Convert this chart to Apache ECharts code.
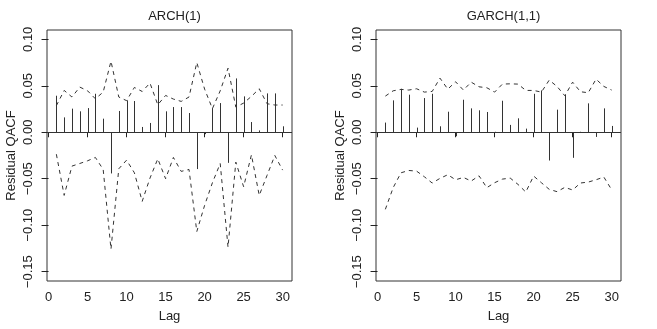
<!DOCTYPE html>
<html>
<head>
<meta charset="utf-8">
<script src="https://cdn.jsdelivr.net/npm/echarts@6/dist/echarts.min.js"></script>
<style>
html,body{margin:0;padding:0;background:#fff;}
#c{width:657px;height:329px;}
</style>
</head>
<body>
<div id="c"></div>
<script>
// ---- Data ----
const lags = [1,2,3,4,5,6,7,8,9,10,11,12,13,14,15,16,17,18,19,20,21,22,23,24,25,26,27,28,29,30];

const archQacf = [0.0393,0.016,0.0254,0.0225,0.026,0.0414,0.0146,-0.0443,0.0229,0.0343,
                  0.0336,0.0057,0.010,0.0507,0.0225,0.0271,0.0271,0.0207,-0.0396,-0.002,
                  0.026,0.0314,-0.0329,0.0579,0.0386,0.011,0.002,0.0418,0.0418,0.0064];
const archUpper = [0.0286,0.045,0.0379,0.0486,0.0446,0.036,0.0432,0.0764,0.0379,0.034,
                   0.0482,0.0439,0.0529,0.0296,0.0396,0.0357,0.0332,0.0379,0.075,0.0464,
                   0.0254,0.0446,0.0689,0.0271,0.0314,0.0386,0.0468,0.0307,0.0293,0.0293];
const archLower = [-0.0236,-0.0679,-0.0364,-0.0336,-0.0307,-0.0271,-0.04,-0.1257,-0.0393,-0.03,
                   -0.0436,-0.0743,-0.0493,-0.0286,-0.05,-0.0271,-0.0421,-0.04,-0.1068,-0.0786,
                   -0.0543,-0.0336,-0.1236,-0.0321,-0.0586,-0.0243,-0.0679,-0.0464,-0.025,-0.0407];

const garchQacf = [0.0104,0.0343,0.0468,0.0404,0.005,0.0368,0.0414,0.0064,0.0221,-0.0043,
                   0.035,0.0257,0.0236,0.0218,0.0005,0.0339,0.0079,0.015,0.0039,0.0414,
                   0.045,-0.0304,0.0243,0.0404,-0.0275,0.0005,0.0311,-0.005,0.0257,0.0068];
const garchUpper = [0.0389,0.0446,0.0461,0.0454,0.0468,0.0432,0.0439,0.0582,0.0464,0.0543,
                    0.0454,0.0539,0.0489,0.0479,0.0432,0.0518,0.0521,0.0518,0.045,0.045,
                    0.0432,0.0561,0.0493,0.0393,0.0539,0.0436,0.0425,0.0571,0.0493,0.0454];
const garchLower = [-0.0829,-0.0596,-0.0436,-0.0411,-0.0418,-0.0479,-0.0546,-0.0496,-0.0457,-0.0511,
                    -0.0486,-0.0525,-0.0468,-0.0596,-0.0543,-0.0504,-0.0493,-0.0561,-0.0643,-0.0471,
                    -0.0543,-0.0614,-0.0639,-0.0593,-0.0621,-0.0546,-0.0536,-0.0511,-0.0482,-0.0618];

const xTicks = [0,5,10,15,20,25,30];
const yTicks = [-0.15,-0.10,-0.05,0.00,0.05,0.10];
const titles = ['ARCH(1)','GARCH(1,1)'];
const xName = 'Lag';
const yName = 'Residual QACF';

// ---- Chart ----
const FONT = '"Liberation Sans", Arial, sans-serif';
const INK = '#222';
const chart = echarts.init(document.getElementById('c'), null, {renderer:'canvas'});

const pairs = (ys) => lags.map((l,i)=>[l, ys[i]]);
const grids = [
  {left:47, top:30, width:245, height:251},
  {left:376, top:30, width:245, height:251}
];
function fmtY(v){
  const s = Math.abs(v).toFixed(2);
  return (v < -1e-9 ? '\u2212' : '') + s;
}
const xAxes = grids.map((g,i)=>({
  type:'value', gridIndex:i, min:-0.2, max:31.2,
  name:xName, nameLocation:'middle', nameGap:29, nameMoveOverlap:false,
  nameTextStyle:{color:INK, fontSize:13, fontFamily:FONT},
  axisLine:{show:false},
  splitLine:{show:false},
  axisTick:{show:true, inside:false, length:5, customValues:xTicks, lineStyle:{color:INK}},
  axisLabel:{show:true, margin:10, customValues:xTicks, color:INK, fontSize:13, fontFamily:FONT,
             formatter:(v)=>String(v)}
}));
const yAxes = grids.map((g,i)=>({
  type:'value', gridIndex:i, min:-0.16, max:0.11,
  name:yName, nameLocation:'middle', nameGap:29, nameMoveOverlap:false,
  nameTextStyle:{color:INK, fontSize:13, fontFamily:FONT},
  axisLine:{show:false},
  splitLine:{show:false},
  axisTick:{show:true, inside:false, length:7, customValues:yTicks, lineStyle:{color:INK}},
  axisLabel:{show:true, margin:12, rotate:90, customValues:yTicks, color:INK, fontSize:13, fontFamily:FONT,
             formatter:fmtY}
}));

function spikes(idx, vals){
  return {
    type:'custom', xAxisIndex:idx, yAxisIndex:idx, silent:true,
    data: pairs(vals),
    renderItem:(params, api)=>{
      const p0 = api.coord([api.value(0), 0]);
      const p1 = api.coord([api.value(0), api.value(1)]);
      const x = Math.round(p0[0]) + 0.5;
      return {type:'line', shape:{x1:x, y1:p0[1], x2:x, y2:p1[1]},
              style:{stroke:'#333', lineWidth:1}};
    }
  };
}
function dashed(idx, vals, withZero){
  const s = {
    type:'line', xAxisIndex:idx, yAxisIndex:idx, silent:true, symbol:'none',
    data: pairs(vals),
    lineStyle:{color:'#333', width:1, type:[4,4]},
    animation:false
  };
  if (withZero){
    s.markLine = {silent:true, symbol:'none', label:{show:false},
      lineStyle:{color:'#333', width:1, type:'solid'},
      data:[{yAxis:0}], animation:false};
  }
  return s;
}

chart.setOption({
  animation:false,
  backgroundColor:'#fff',
  title: titles.map((t,i)=>({
    text:t, left: grids[i].left + grids[i].width/2, top:5, textAlign:'center',
    textStyle:{fontSize:13, fontWeight:'normal', color:INK, fontFamily:FONT}
  })),
  grid: grids.map(g=>Object.assign({show:true, borderColor:'#333', borderWidth:1, backgroundColor:'transparent'}, g)),
  xAxis: xAxes,
  yAxis: yAxes,
  series: [
    spikes(0, archQacf), dashed(0, archUpper, true), dashed(0, archLower, false),
    spikes(1, garchQacf), dashed(1, garchUpper, true), dashed(1, garchLower, false)
  ]
});
</script>
</body>
</html>
